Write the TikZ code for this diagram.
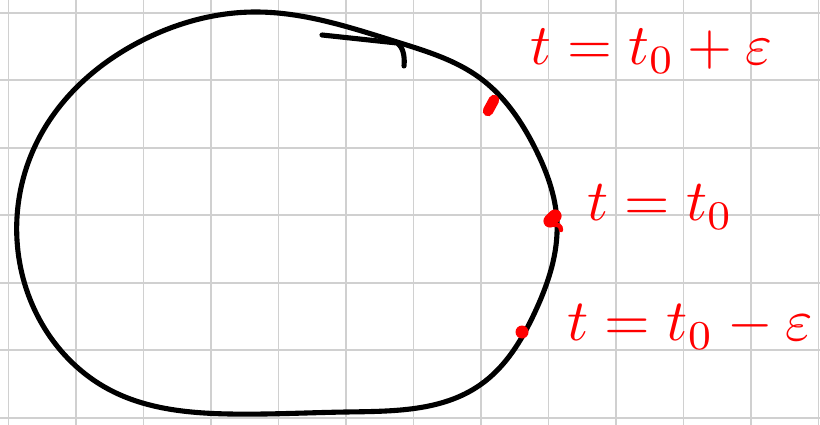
\documentclass[tikz,border=0pt]{standalone}
\usepackage{graphicx}
\usetikzlibrary{hobby}
\definecolor{gridgray}{RGB}{208,208,208}
\definecolor{inkred}{RGB}{255,0,0}
\tikzset{
  gridline/.style={draw=gridgray, line width=1.1pt},
  curveline/.style={draw=black, line width=2.9pt, line cap=round, line join=round},
  reddot/.style={draw=inkred, line width=6pt, line cap=round},
  redlabel/.style={text=inkred, inner sep=0pt, anchor=west}
}
\begin{document}
\begin{tikzpicture}[x=0.02cm, y=-0.02cm]
  \fill[white] (0,0) rectangle (820,425);
  \useasboundingbox (0,0) rectangle (820,425);
  % grid
  \foreach \k in {0,...,12} {
    \draw[gridline] ({8.5+67.5*\k},0) -- ({8.5+67.5*\k},425);
  }
  \foreach \k in {0,...,6} {
    \draw[gridline] (0,{12.7+67.5*\k}) -- (820,{12.7+67.5*\k});
  }
  % closed loop
  \draw[curveline, use Hobby shortcut, closed=true]
    (255,12) .. (397,42) .. (480,78) .. (535,148) .. (557,222)
    .. (535,312) .. (480,385) .. (346,412) .. (230,414)
    .. (110,390) .. (42,324) .. (17,240) .. (38,140) .. (143,40);
  % hook mark
  \draw[curveline] (322,35) -- (397,43) .. controls (403,47) and (405,56) .. (404,66);
  % red dots
  \coordinate (p1) at (491,105);
  \coordinate (p2) at (552,219);
  \coordinate (p3) at (522,332);
  \draw[reddot] (488,111) -- (494,100);
  \draw[reddot, line width=7.5pt] (550,221) -- (555,216);
  \draw[draw=inkred, line width=2.5pt, line cap=round] (554,225) .. controls (558,224) and (561,226) .. (561,230);
  \fill[inkred] (p3) circle (6.5);
  % labels
  \node[redlabel] (l1) at (530,51) {\resizebox{4.84cm}{!}{$t=t_0+\varepsilon$}};
  \node[redlabel] (l2) at (587,207) {\resizebox{2.92cm}{!}{$t=t_0$}};
  \node[redlabel] (l3) at (567,327) {\resizebox{4.92cm}{!}{$t=t_0-\varepsilon$}};
\end{tikzpicture}
\end{document}
